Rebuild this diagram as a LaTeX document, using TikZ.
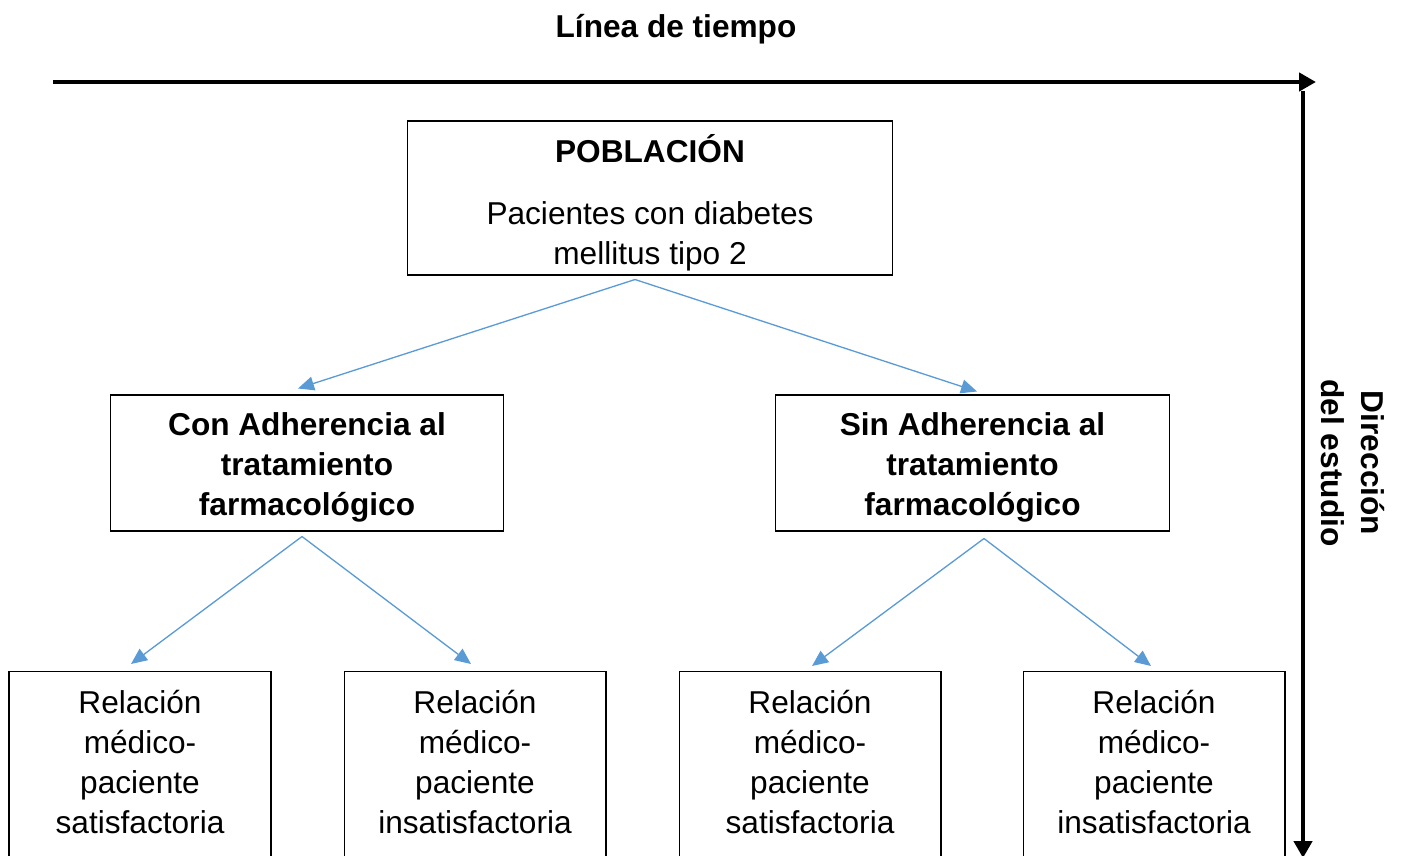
\documentclass[tikz,border=0pt]{standalone}
\usepackage{fontspec}
\setmainfont{Liberation Sans}
\usetikzlibrary{arrows.meta}
\definecolor{azul}{HTML}{5B9BD5}
\tikzset{caja/.style={draw,line width=0.6pt,align=center,inner sep=0pt,font=\fontsize{18}{22.7}\selectfont},
  hoja/.style={caja,minimum width=5.24cm,minimum height=4.4cm},
  flecha/.style={draw=azul,line width=0.75pt,-{Triangle[length=0.32cm,width=0.28cm]}},
  eje/.style={line width=2.8pt,-{Triangle[length=0.34cm,width=0.36cm]}},
  rotulo/.style={align=center,font=\fontsize{18}{22.7}\selectfont\bfseries}}

\begin{document}
\begin{tikzpicture}[x=0.02cm,y=-0.02cm]
              \useasboundingbox (0,0) rectangle (1402,855);

              \node[rotulo] (titulo) at (676,29) {Línea de tiempo};
              \coordinate (t0) at (53,82);
              \coordinate (t1) at (1316,82);
              \coordinate (d0) at (1303,91);
              \coordinate (d1) at (1303,858);
              \node[rotulo,rotate=-90] (dir) at (1353,463) {Dirección\\del estudio};

              \node[caja,minimum width=9.72cm,minimum height=3.08cm] (pob) at (650,198)
                {\rule{0pt}{21.5pt}\textbf{POBLACIÓN}\\[0.44cm]Pacientes con diabetes\\mellitus tipo 2};

              \node[caja,minimum width=7.88cm,minimum height=2.72cm] (con) at (307,463)
                {\rule{0pt}{18pt}\textbf{Con Adherencia al}\\\textbf{tratamiento}\\\textbf{farmacológico}};
              \node[caja,minimum width=7.88cm,minimum height=2.72cm] (sin) at (972.5,463)
                {\rule{0pt}{18pt}\textbf{Sin Adherencia al}\\\textbf{tratamiento}\\\textbf{farmacológico}};

              % the bottom row runs past the page edge
              \node[hoja] (cs) at (140,781.5) {Relación\\médico-\\paciente\\satisfactoria\\\mbox{}};
              \node[hoja] (ci) at (475,781.5) {Relación\\médico-\\paciente\\insatisfactoria\\\mbox{}};
              \node[hoja] (ss) at (810,781.5) {Relación\\médico-\\paciente\\satisfactoria\\\mbox{}};
              \node[hoja] (si) at (1154,781.5) {Relación\\médico-\\paciente\\insatisfactoria\\\mbox{}};

              \draw[eje] (t0) -- (t1);
              \draw[eje] (d0) -- (d1);

              \path
              ([xshift=-0.3cm,yshift=-0.08cm]pob.south) edge[flecha] ([xshift=-0.18cm,yshift=0.12cm]con.north)
                                                        edge[flecha] ([xshift=0.09cm,yshift=0.06cm]sin.north)
              ([xshift=-0.1cm,yshift=-0.1cm]con.south) edge[flecha] ([xshift=-0.18cm,yshift=0.14cm]cs.north)
                                                       edge[flecha] ([xshift=-0.08cm,yshift=0.14cm]ci.north)
              ([xshift=0.23cm,yshift=-0.14cm]sin.south) edge[flecha] ([xshift=0.04cm,yshift=0.1cm]ss.north)
                                                        edge[flecha] ([xshift=-0.06cm,yshift=0.1cm]si.north)
              ;
            \end{tikzpicture}
\end{document}
